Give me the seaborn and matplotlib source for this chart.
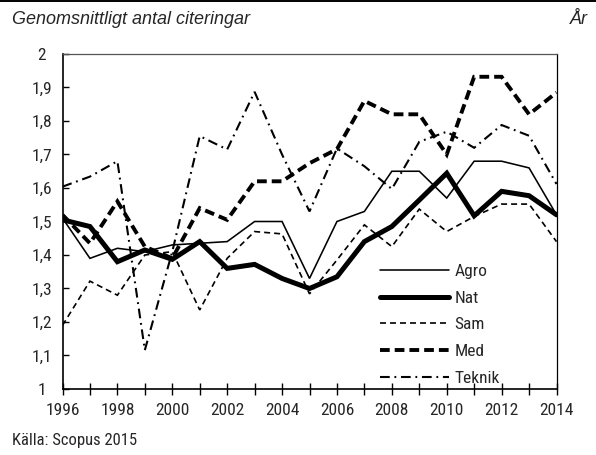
import matplotlib
matplotlib.use("Agg")
import matplotlib.pyplot as plt
from matplotlib.lines import Line2D
from matplotlib.ticker import MultipleLocator, FuncFormatter
import seaborn as sns
import pandas as pd

# Average number of citations per publication, by subject area
years = list(range(1996, 2015))
agro = [1.51, 1.39, 1.42, 1.41, 1.43, 1.435, 1.44, 1.50, 1.50, 1.33, 1.50, 1.53,
        1.65, 1.65, 1.57, 1.68, 1.68, 1.66, 1.52]
nat = [1.505, 1.485, 1.38, 1.415, 1.387, 1.44, 1.36, 1.372, 1.33, 1.30, 1.335, 1.44,
       1.485, 1.564, 1.644, 1.517, 1.59, 1.577, 1.52]
sam = [1.19, 1.322, 1.28, 1.40, 1.41, 1.236, 1.39, 1.47, 1.463, 1.284, 1.385, 1.49,
       1.425, 1.537, 1.47, 1.515, 1.552, 1.552, 1.44]
med = [1.52, 1.435, 1.56, 1.425, 1.39, 1.54, 1.505, 1.62, 1.62, 1.674, 1.716, 1.86,
       1.82, 1.82, 1.70, 1.932, 1.932, 1.82, 1.885]
teknik = [1.604, 1.634, 1.68, 1.116, 1.41, 1.755, 1.715, 1.887, 1.70, 1.53, 1.718, 1.665,
          1.597, 1.738, 1.768, 1.72, 1.788, 1.756, 1.612]

series_names = ["Agro", "Nat", "Sam", "Med", "Teknik"]
series_values = [agro, nat, sam, med, teknik]

df = pd.DataFrame({"År": years, **dict(zip(series_names, series_values))})
long_df = df.melt(id_vars="År", var_name="Område", value_name="Citeringar")

sns.set_theme(style="white")
plt.rcParams["lines.scale_dashes"] = False
narrow = ["Roboto Condensed", "Archivo Narrow", "PT Sans Narrow", "Sofia Sans Condensed",
          "Liberation Sans", "DejaVu Sans"]
plt.rcParams["font.family"] = narrow

styles = {
    "Agro":   dict(lw=1.15, ls="-"),
    "Nat":    dict(lw=3.6, ls="-"),
    "Sam":    dict(lw=1.2, ls=(0, (4.3, 2.9))),
    "Med":    dict(lw=2.8, ls=(0, (7.0, 3.6))),
    "Teknik": dict(lw=1.5, ls=(0, (7.0, 3.4, 1.3, 3.4))),
}

fig = plt.figure(figsize=(5.96, 4.55), dpi=100)
ax = fig.add_axes([62.5 / 596, 1 - 389 / 455, (556.5 - 62.5) / 596, (389 - 54) / 455])

for name in series_names:
    sub = long_df[long_df["Område"] == name]
    st = styles[name]
    sns.lineplot(data=sub, x="År", y="Citeringar", ax=ax, color="black",
                 linewidth=st["lw"], linestyle=st["ls"], label=name,
                 solid_joinstyle="miter", dash_joinstyle="miter")

ax.set_xlim(1996, 2014)
ax.set_ylim(1, 2)
ax.set_xlabel("")
ax.set_ylabel("")

ax.xaxis.set_major_locator(MultipleLocator(2))
ax.xaxis.set_minor_locator(MultipleLocator(1))
ax.yaxis.set_major_locator(MultipleLocator(0.1))
ax.yaxis.set_major_formatter(FuncFormatter(
    lambda v, p: ("%.1f" % v).replace(".", ",") if abs(v - round(v)) > 1e-9 else "%d" % round(v)))

tick_font = 12.5
ax.tick_params(axis="x", which="both", direction="inout", length=8.5, width=1.0,
               color="black", labelsize=tick_font, pad=5.6, bottom=True)
ax.tick_params(axis="y", which="major", direction="in", length=4.3, width=1.0,
               color="black", labelsize=tick_font, pad=14.8, left=True)
for lab in ax.get_yticklabels():
    lab.set_horizontalalignment("center")

for side in ["left", "bottom"]:
    ax.spines[side].set_color("black")
    ax.spines[side].set_linewidth(1.2)
ax.spines["right"].set_color("black")
ax.spines["right"].set_linewidth(0.9)
ax.spines["top"].set_color("#555555")
ax.spines["top"].set_linewidth(0.9)

ax.legend(loc="upper left", bbox_to_anchor=(380 / 596, 1 - 264 / 455),
          bbox_transform=fig.transFigure, frameon=False, fontsize=tick_font,
          handlelength=3.95, handletextpad=0.35, labelspacing=0.66,
          borderpad=0, borderaxespad=0)

# Header rule and labels
fig.add_artist(Line2D([0, 1], [1 - 1 / 455, 1 - 1 / 455], transform=fig.transFigure,
                      color="black", lw=1.4))
fig.text(12 / 596, 1 - 20 / 455, "Genomsnittligt antal citeringar", ha="left", va="center",
         fontsize=13, style="italic", family=["Liberation Sans", "DejaVu Sans"])
fig.text(588 / 596, 1 - 20 / 455, "År", ha="right", va="center",
         fontsize=13, style="italic", family=["Liberation Sans", "DejaVu Sans"])
fig.text(12 / 596, 1 - 441 / 455, "Källa: Scopus 2015", ha="left", va="center",
         fontsize=12)

fig.savefig("out.png", dpi=100, facecolor="white")
